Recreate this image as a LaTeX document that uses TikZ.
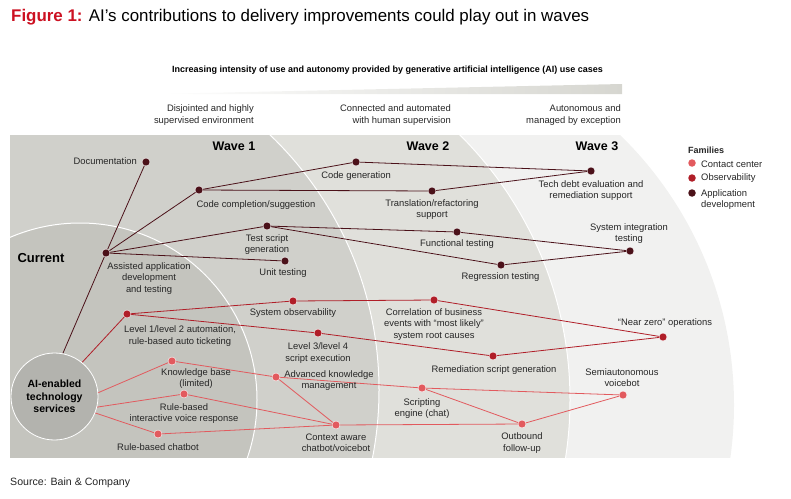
\documentclass[tikz,border=0pt]{standalone}
\usepackage{fontspec}
\setmainfont{Liberation Sans}
\definecolor{appC}{HTML}{4B1119}
\definecolor{obsC}{HTML}{B01E28}
\definecolor{ccC}{HTML}{E25A5E}
\definecolor{titleRed}{HTML}{CC1122}
\definecolor{curC}{HTML}{C4C4BE}
\definecolor{waveoneC}{HTML}{D0D0CB}
\definecolor{wavetwoC}{HTML}{E0E0DB}
\definecolor{wavethreeC}{HTML}{F1F1F0}
\definecolor{aiC}{HTML}{B3B3AE}
\definecolor{barC}{HTML}{D6D6D0}
\pgfdeclarelayer{bands}
\pgfdeclarelayer{links}
\pgfsetlayers{bands,links,main}
\begin{document}
\begin{tikzpicture}[x=1pt, y=-1pt, font=\fontsize{9.4}{11.4}\selectfont]
    \tikzset{dotnode/.style={circle, fill=#1, draw=white, line width=0.4pt, inner sep=0pt, minimum size=8pt},
             lbl/.style={align=center, inner sep=0pt, text=black!85},
             link/.style={draw=#1, line width=0.8pt},
             wavelbl/.style={inner sep=0pt, font=\fontsize{12.5}{14}\selectfont\bfseries}}
    \useasboundingbox (0,0) rectangle (791,498);

    % title and header
    \node[anchor=base west, inner sep=0pt] (title) at (11,21) {\fontsize{16.9}{19}\selectfont{\color{titleRed}\bfseries Figure 1:} AI’s contributions to delivery improvements could play out in waves};
    \node[inner sep=0pt, font=\fontsize{9}{11}\selectfont\bfseries] (intensity) at (387.5,70) {Increasing intensity of use and autonomy provided by generative artificial intelligence (AI) use cases};
    \shade[left color=white, right color=barC] (153,94) -- (622,84) -- (622,94) -- cycle;
    \node[lbl, align=right, anchor=east] (disjoint) at (254,115) {Disjointed and highly\\supervised environment};
    \node[lbl, align=right, anchor=east] (connect) at (451,115) {Connected and automated\\with human supervision};
    \node[lbl, align=right, anchor=east] (autonom) at (621,115) {Autonomous and\\managed by exception};

    % waves
    \begin{pgfonlayer}{bands}
        \clip (10,135) rectangle (791,457);
        \fill[wavethreeC] (357,405) circle[radius=377pt];
        \draw[white, line width=1pt, fill=wavetwoC] (196,400) circle[radius=374pt];
        \draw[white, line width=1pt, fill=waveoneC] (26,390) circle[radius=353pt];
        \draw[white, line width=1pt, fill=curC] (80,400) circle[radius=177pt];
    \end{pgfonlayer}
    \node[wavelbl] (wave1) at (234,146) {Wave 1};
    \node[wavelbl] (wave2) at (428,146) {Wave 2};
    \node[wavelbl] (wave3) at (597,146) {Wave 3};
    \node[wavelbl, font=\fontsize{13}{15}\selectfont\bfseries] (current) at (41,258) {Current};
    \node[circle, fill=aiC, draw=white, line width=0.8pt, minimum size=87pt, inner sep=0pt, align=center,
          font=\fontsize{10.5}{12.5}\selectfont\bfseries] (ai) at (54.5,396.5) {AI-enabled\\technology\\services};

    % dots
    \node[dotnode=appC] (doc) at (146,162) {};
    \node[dotnode=appC] (compl) at (199,190) {};
    \node[dotnode=appC] (assist) at (106,253) {};
    \node[dotnode=appC] (testgen) at (267,226) {};
    \node[dotnode=appC] (unit) at (285,261) {};
    \node[dotnode=appC] (codegen) at (356,162) {};
    \node[dotnode=appC] (transl) at (432,191) {};
    \node[dotnode=appC] (functest) at (457,232) {};
    \node[dotnode=appC] (regress) at (501,265) {};
    \node[dotnode=appC] (techdebt) at (591,171) {};
    \node[dotnode=appC] (sysint) at (630,251) {};
    \node[dotnode=obsC] (lvlone) at (127,314) {};
    \node[dotnode=obsC] (sysobs) at (293,301) {};
    \node[dotnode=obsC] (correl) at (434,300) {};
    \node[dotnode=obsC] (lvlthree) at (318,333) {};
    \node[dotnode=obsC] (remed) at (493,356) {};
    \node[dotnode=obsC] (nearzero) at (663,337) {};
    \node[dotnode=ccC] (kb) at (172,361) {};
    \node[dotnode=ccC] (ivr) at (184,394) {};
    \node[dotnode=ccC] (chatbot) at (158,434) {};
    \node[dotnode=ccC] (advkm) at (276,377) {};
    \node[dotnode=ccC] (script) at (422,388) {};
    \node[dotnode=ccC] (context) at (336,425) {};
    \node[dotnode=ccC] (outbound) at (522,424) {};
    \node[dotnode=ccC] (semiauto) at (623,395) {};

    % links
    \begin{pgfonlayer}{links}
        \draw[link=appC] (ai.79) -- (assist.center) -- (doc.center);
        \draw[link=appC] (assist.center) -- (compl.center);
        \draw[link=appC] (assist.center) -- (testgen.center);
        \draw[link=appC] (assist.center) -- (unit.center);
        \draw[link=appC] (compl.center) -- (codegen.center);
        \draw[link=appC] (compl.center) -- (transl.center);
        \draw[link=appC] (codegen.center) -- (techdebt.center);
        \draw[link=appC] (transl.center) -- (techdebt.center);
        \draw[link=appC] (testgen.center) -- (functest.center);
        \draw[link=appC] (testgen.center) -- (regress.center);
        \draw[link=appC] (functest.center) -- (sysint.center);
        \draw[link=appC] (regress.center) -- (sysint.center);
        \draw[link=obsC] (ai.51) -- (lvlone.center);
        \draw[link=obsC] (lvlone.center) -- (sysobs.center);
        \draw[link=obsC] (lvlone.center) -- (lvlthree.center);
        \draw[link=obsC] (sysobs.center) -- (correl.center);
        \draw[link=obsC] (correl.center) -- (nearzero.center);
        \draw[link=obsC] (lvlthree.center) -- (remed.center);
        \draw[link=obsC] (remed.center) -- (nearzero.center);
        \draw[link=ccC] (ai.5) -- (kb.center);
        \draw[link=ccC] (ai.-14) -- (ivr.center);
        \draw[link=ccC] (ai.-22) -- (chatbot.center);
        \draw[link=ccC] (kb.center) -- (advkm.center);
        \draw[link=ccC] (advkm.center) -- (context.center);
        \draw[link=ccC] (advkm.center) -- (script.center);
        \draw[link=ccC] (ivr.center) -- (context.center);
        \draw[link=ccC] (chatbot.center) -- (context.center);
        \draw[link=ccC] (context.center) -- (outbound.center);
        \draw[link=ccC] (script.center) -- (outbound.center);
        \draw[link=ccC] (script.center) -- (semiauto.center);
        \draw[link=ccC] (outbound.center) -- (semiauto.center);
    \end{pgfonlayer}

    % labels
    \node[lbl, anchor=east] (docT) at (137,161) {Documentation};
    \node[lbl] (complT) at (256,205) {Code completion/suggestion};
    \node[lbl] (testgenT) at (267,244.5) {Test script\\generation};
    \node[lbl] (assistT) at (149,278.5) {Assisted application\\development\\and testing};
    \node[lbl] (codegenT) at (356,176) {Code generation};
    \node[lbl] (translT) at (432,209.5) {Translation/refactoring\\support};
    \node[lbl] (functestT) at (457,244) {Functional testing};
    \node[lbl] (unitT) at (283,273) {Unit testing};
    \node[lbl] (regressT) at (500.5,277) {Regression testing};
    \node[lbl] (techdebtT) at (591,190.5) {Tech debt evaluation and\\remediation support};
    \node[lbl] (sysintT) at (629,233.5) {System integration\\testing};
    \node[lbl] (lvloneT) at (180,336) {Level 1/level 2 automation,\\rule-based auto ticketing};
    \node[lbl] (sysobsT) at (293,313) {System observability};
    \node[lbl] (correlT) at (434,324.5) {Correlation of business\\events with “most likely”\\system root causes};
    \node[lbl] (lvlthreeT) at (318,353) {Level 3/level 4\\script execution};
    \node[lbl] (remedT) at (494,370) {Remediation script generation};
    \node[lbl] (nearzeroT) at (665,323) {“Near zero” operations};
    \node[lbl] (kbT) at (196,378.5) {Knowledge base\\(limited)};
    \node[lbl] (advkmT) at (329,380.5) {Advanced knowledge\\management};
    \node[lbl] (ivrT) at (184,413.5) {Rule-based\\interactive voice response};
    \node[lbl] (scriptT) at (422,408.5) {Scripting\\engine (chat)};
    \node[lbl] (semiautoT) at (622,377.5) {Semiautonomous\\voicebot};
    \node[lbl] (chatbotT) at (158,447) {Rule-based chatbot};
    \node[lbl] (contextT) at (336,443) {Context aware\\chatbot/voicebot};
    \node[lbl] (outboundT) at (522,443) {Outbound\\follow-up};

    % legend
    \node[lbl, anchor=west, font=\fontsize{9}{11}\selectfont\bfseries] (families) at (688,150) {Families};
    \node[dotnode=ccC, minimum size=7.5pt, draw=none] (ccDot) at (692,163) {};
    \node[dotnode=obsC, minimum size=7.5pt, draw=none] (obsDot) at (692,178) {};
    \node[dotnode=appC, minimum size=7.5pt, draw=none] (appDot) at (692,193) {};
    \node[lbl, anchor=west] (ccT) at (701,164.5) {Contact center};
    \node[lbl, anchor=west] (obsT) at (701,178.5) {Observability};
    \node[lbl, anchor=north west, align=left] (appT) at (701,189) {Application\\development};

    \node[lbl, anchor=west, font=\fontsize{10.6}{12}\selectfont] (source) at (10,483) {Source: Bain \& Company};
\end{tikzpicture}
\end{document}
